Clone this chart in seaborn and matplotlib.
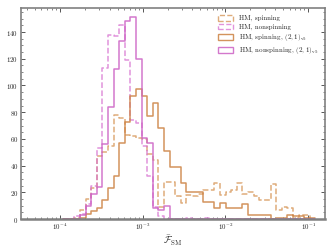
import numpy as np
import pandas as pd
import matplotlib
matplotlib.use('Agg')
import matplotlib.pyplot as plt
import matplotlib.patches as mpatches
from matplotlib.ticker import MultipleLocator, LogLocator
import seaborn as sns

sns.set_theme(style='ticks')
plt.rcParams['font.family'] = 'serif'
plt.rcParams['font.serif'] = ['cmr10', 'DejaVu Serif']
plt.rcParams['mathtext.fontset'] = 'cm'
plt.rcParams['axes.formatter.use_mathtext'] = True

# log10 bin edges of F_SM (45 bins)
log_lo, log_hi, n_bins = -3.960, -0.913, 45
log_edges = np.linspace(log_lo, log_hi, n_bins + 1)
log_centers = 0.5 * (log_edges[:-1] + log_edges[1:])

# counts per bin
hm_spin = [0, 0, 1, 7, 15, 23, 47, 50, 55, 78, 76, 63, 62, 61, 60, 49, 44, 9, 28, 28,
           17, 12, 18, 17, 19, 22, 22, 27, 18, 20, 22, 27, 19, 20, 17, 14, 14, 26, 7, 9,
           8, 1, 3, 3, 0]
hm_nonspin = [0, 0, 2, 4, 11, 25, 53, 113, 138, 137, 145, 119, 74, 72, 55, 32, 9, 2, 0, 0,
              0, 0, 1, 0, 0, 1, 0, 0, 0, 0, 0, 0, 0, 0, 0, 0, 0, 0, 0, 0,
              0, 0, 0, 0, 0]
hm_spin_21 = [0, 0, 0, 1, 4, 6, 8, 14, 23, 32, 57, 73, 92, 97, 92, 77, 87, 68, 51, 39,
              39, 27, 20, 20, 20, 13, 13, 8, 12, 8, 8, 8, 11, 3, 3, 3, 3, 0, 1, 1,
              3, 2, 2, 1, 1]
hm_nonspin_21 = [0, 0, 0, 3, 10, 19, 24, 56, 84, 112, 133, 148, 151, 120, 61, 57, 8, 7, 10, 0,
                 0, 0, 0, 0, 0, 0, 0, 0, 0, 0, 0, 0, 0, 0, 0, 0, 0, 0, 0, 0,
                 0, 0, 0, 0, 0]

labels = ['HM, spinning', 'HM, nonspinning',
          r'HM, spinning, $(2,1)_{\rm v5}$', r'HM, nonspinning, $(2,1)_{\rm v5}$']
series = [hm_spin, hm_nonspin, hm_spin_21, hm_nonspin_21]
colors = ['#d4904f', '#d76fd0', '#cc8040', '#cc60c4']
styles = ['--', '--', '-', '-']
alphas = [0.75, 0.75, 0.85, 0.85]

fig = plt.figure(figsize=(3.32, 2.49), dpi=100)
ax = fig.add_axes([0.063, 0.12, 0.916, 0.848])

for counts, c, ls, a in zip(series, colors, styles, alphas):
    df = pd.DataFrame({'F': 10 ** log_centers, 'n': counts})
    sns.histplot(data=df, x='F', weights='n', bins=list(log_edges), log_scale=True,
                 element='step', fill=False, color=c, linestyle=ls, linewidth=1.1,
                 alpha=a, ax=ax)

ax.set_xlim(10 ** -4.47, 10 ** -0.796)
ax.set_ylim(0, 158)
ax.yaxis.set_major_locator(MultipleLocator(20))
ax.yaxis.set_minor_locator(MultipleLocator(5))
ax.xaxis.set_major_locator(LogLocator(base=10, numticks=10))
ax.xaxis.set_minor_locator(LogLocator(base=10, subs=np.arange(2, 10), numticks=10))
ax.tick_params(which='both', direction='in', top=True, right=True, color='#555555',
               labelsize=5, pad=2)
ax.tick_params(which='major', length=3, width=0.7)
ax.tick_params(which='minor', length=1.6, width=0.5)
for sp in ax.spines.values():
    sp.set_color('#808080')
    sp.set_linewidth(1.2)
ax.spines['bottom'].set_linewidth(1.8)

ax.set_xlabel(r'$\bar{\mathcal{F}}_{\rm SM}$', fontsize=7, labelpad=1)
ax.set_ylabel('')

handles = [mpatches.Patch(facecolor='none', edgecolor=c, linestyle=ls, linewidth=1.0,
                          alpha=a, label=l)
           for c, ls, a, l in zip(colors, styles, alphas, labels)]
ax.legend(handles=handles, loc='upper right', frameon=False, fontsize=5,
          handlelength=2.2, handleheight=0.9, labelspacing=0.3, borderaxespad=0.6)

fig.savefig('out.png', dpi=100)
